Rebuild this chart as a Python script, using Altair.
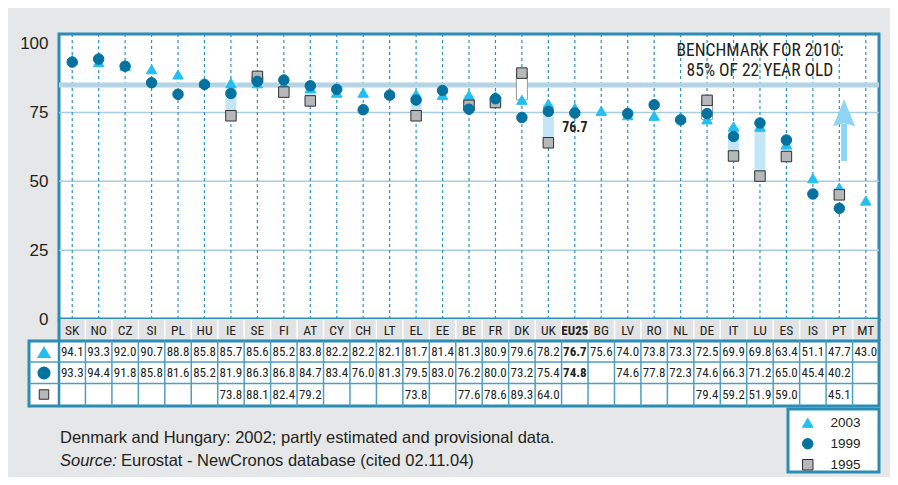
import altair as alt
import pandas as pd

# ---------------- data ----------------
countries = ["SK", "NO", "CZ", "SI", "PL", "HU", "IE", "SE", "FI", "AT", "CY", "CH", "LT", "EL",
             "EE", "BE", "FR", "DK", "UK", "EU25", "BG", "LV", "RO", "NL", "DE", "IT", "LU", "ES",
             "IS", "PT", "MT"]
v2003 = [94.1, 93.3, 92.0, 90.7, 88.8, 85.8, 85.7, 85.6, 85.2, 83.8, 82.2, 82.2, 82.1, 81.7,
         81.4, 81.3, 80.9, 79.6, 78.2, 76.7, 75.6, 74.0, 73.8, 73.3, 72.5, 69.9, 69.8, 63.4,
         51.1, 47.7, 43.0]
v1999 = [93.3, 94.4, 91.8, 85.8, 81.6, 85.2, 81.9, 86.3, 86.8, 84.7, 83.4, 76.0, 81.3, 79.5,
         83.0, 76.2, 80.0, 73.2, 75.4, 74.8, None, 74.6, 77.8, 72.3, 74.6, 66.3, 71.2, 65.0,
         45.4, 40.2, None]
v1995 = [None, None, None, None, None, None, 73.8, 88.1, 82.4, 79.2, None, None, None, 73.8,
         None, 77.6, 78.6, 89.3, 64.0, None, None, None, None, None, 79.4, 59.2, 51.9, 59.0,
         None, 45.1, None]
series_names = ["2003", "1999", "1995"]
y_ticks = [0, 25, 50, 75, 100]
grid_values = [25, 50, 75]
benchmark_value = 85
benchmark_lines = ["BENCHMARK FOR 2010:", "85% OF 22 YEAR OLD"]
benchmark_line_y = [97.4, 90.2]
benchmark_country = "LU"
highlight_country = "EU25"
arrow_country = "PT"
arrow_shaft = [57.4, 71.0]
arrow_head = [74.8]
footnote = "Denmark and Hungary: 2002; partly estimated and provisional data."
source_label = "Source:"
source_text = "Eurostat - NewCronos database (cited 02.11.04)"

# ---------------- style ----------------
NARROW = "Liberation Sans Narrow, Arial Narrow, Roboto Condensed, DejaVu Sans Condensed, sans-serif"
REG = "Liberation Sans, Arial, sans-serif"
TXT = "#231f20"
BG = "#e6e7e8"
BORDER = "#2b8db5"
GRIDC = "#4d9fc2"
C2003 = "#22bff0"
C1999 = "#04729e"
C1995 = "#b7b8ba"
W, H = 820, 285

wide = pd.DataFrame({"country": countries, "v2003": v2003, "v1999": v1999, "v1995": v1995})

rows = []
for name, vals in (("2003", v2003), ("1995", v1995), ("1999", v1999)):
    for c, v in zip(countries, vals):
        if v is not None:
            rows.append({"country": c, "series": name, "value": v})
long = pd.DataFrame(rows)

ranges = pd.DataFrame([
    {"country": c, "lo": a, "hi": b, "up": a >= b}
    for c, a, b in zip(countries, v2003, v1995) if b is not None
])

YSCALE = alt.Scale(domain=[0, 103.5], nice=False, zero=False)
XSCALE = alt.Scale(paddingInner=0, paddingOuter=0)


def X(**kw):
    return alt.X("country:N", sort=countries, scale=XSCALE, axis=None, title=None, **kw)


def Yq(field, **kw):
    return alt.Y(field, type="quantitative", scale=YSCALE, title=None, **kw)


one = pd.DataFrame({"k": [0]})

# gridlines + y axis
grid = alt.Chart(pd.DataFrame({"g": grid_values})).mark_rule(
    color="#a8cde0", strokeWidth=1.5
).encode(
    y=Yq("g", axis=alt.Axis(values=y_ticks, grid=False, domain=False, ticks=False, tickSize=0,
                            labelFontSize=17, labelFont=REG, labelColor=TXT, labelPadding=11))
)

dashes = alt.Chart(wide).mark_rule(strokeDash=[3, 3], color="#2c92c4", strokeWidth=1.2).encode(
    x=X()
)

bench = alt.Chart(pd.DataFrame({"b": [benchmark_value]})).mark_rule(
    color="#b2d4e4", strokeWidth=5
).encode(y=Yq("b"))

bars_up = alt.Chart(ranges).transform_filter("datum.up").mark_bar(
    width=11, color="#c3e6f7"
).encode(x=X(), y=Yq("lo"), y2="hi")

bars_down = alt.Chart(ranges).transform_filter("!datum.up").mark_bar(
    width=11, fill="white", stroke="#9a9a9a", strokeWidth=1
).encode(x=X(), y=Yq("lo"), y2="hi")

LEG = alt.Legend(title=None, orient="none", legendX=742, legendY=382, labelFont=REG,
                 labelFontSize=13.5, labelColor=TXT, labelOffset=16, symbolSize=110,
                 rowPadding=6, padding=0, symbolStrokeWidth=1)

markers = alt.Chart(long).mark_point(filled=True, size=110, strokeWidth=1, opacity=1).encode(
    x=X(),
    y=Yq("value"),
    shape=alt.Shape("series:N", scale=alt.Scale(domain=series_names,
                                                range=["triangle-up", "circle", "square"]), legend=LEG),
    fill=alt.Fill("series:N", scale=alt.Scale(domain=series_names,
                                              range=[C2003, C1999, C1995]), legend=LEG),
    stroke=alt.Stroke("series:N", scale=alt.Scale(domain=series_names,
                                                  range=[C2003, C1999, "#2f2f2f"]), legend=LEG),
)

eu_label = alt.Chart(wide).transform_filter(
    f"datum.country == '{highlight_country}'"
).mark_text(font=NARROW, fontSize=14, fontWeight="bold", color=TXT, dy=20, baseline="middle").encode(
    x=X(), y=Yq("v2003"), text=alt.Text("v2003:Q", format=".1f")
)

bench_text = alt.Chart(pd.DataFrame({"t": benchmark_lines, "v": benchmark_line_y,
                                     "country": [benchmark_country] * 2})).mark_text(
    font=NARROW, fontSize=17.5, color=TXT, baseline="middle"
).encode(x=X(), y=Yq("v"), text="t:N")

arrow_df = pd.DataFrame({"country": [arrow_country], "a": [arrow_shaft[0]], "b": [arrow_shaft[1]],
                         "h": arrow_head})
arrow_shaft_l = alt.Chart(arrow_df).mark_rule(color="#8fd5f3", strokeWidth=6).encode(
    x=X(), xOffset=alt.value(18), y=Yq("a"), y2="b"
)
arrow_head_l = alt.Chart(arrow_df).mark_point(
    shape="M0,-1.25L1,1.2L0,0.9L-1,1.2Z", filled=True, size=484, color="#8fd5f3", opacity=1
).encode(x=X(), xOffset=alt.value(18), y=Yq("h"))

# ---------------- table ----------------
head_rect = alt.Chart(one).mark_rect(fill="#e2e3e4").encode(
    x=alt.value(0), x2=alt.value(W), y=alt.value(H), y2=alt.value(307)
)
head_sep = alt.Chart(wide).transform_filter(f"datum.country != '{countries[0]}'").mark_rule(
    color="white", strokeWidth=1.5
).encode(x=X(bandPosition=0), y=alt.value(H + 1), y2=alt.value(307))
head_sides = alt.Chart(pd.DataFrame({"px": [0, W]})).mark_rule(color=BORDER, strokeWidth=3).encode(
    x=alt.X("px:Q", scale=None), y=alt.value(H), y2=alt.value(307)
)
head_text = alt.Chart(wide).transform_filter(f"datum.country != '{highlight_country}'").mark_text(
    font=NARROW, fontSize=13.5, color=TXT, baseline="middle"
).encode(x=X(), y=alt.value(297), text="country:N")
head_text_b = alt.Chart(wide).transform_filter(f"datum.country == '{highlight_country}'").mark_text(
    font=NARROW, fontSize=13, fontWeight="bold", color=TXT, baseline="middle"
).encode(x=X(), y=alt.value(297), text="country:N")

table_rect = alt.Chart(one).mark_rect(fill="white", stroke=BORDER, strokeWidth=3).encode(
    x=alt.value(-30), x2=alt.value(W), y=alt.value(307), y2=alt.value(372)
)
table_v = alt.Chart(wide).transform_filter(f"datum.country != '{countries[0]}'").mark_rule(
    color=GRIDC, strokeWidth=1.5
).encode(x=X(bandPosition=0), y=alt.value(307), y2=alt.value(372))
table_v0 = alt.Chart(one).mark_rule(color=BORDER, strokeWidth=2.5).encode(
    x=alt.value(0), y=alt.value(307), y2=alt.value(372)
)
table_h = alt.Chart(pd.DataFrame({"py": [328, 349.5]})).mark_rule(color=GRIDC, strokeWidth=1.5).encode(
    y=alt.Y("py:Q", scale=None), x=alt.value(-30), x2=alt.value(W)
)

row_layers = []
for field, ypx in (("v2003", 318), ("v1999", 339), ("v1995", 360.5)):
    row_layers.append(alt.Chart(wide).transform_filter(
        f"isValid(datum.{field}) && datum.country != '{highlight_country}'"
    ).mark_text(font=NARROW, fontSize=13, color=TXT, baseline="middle").encode(
        x=X(), y=alt.value(ypx), text=alt.Text(f"{field}:Q", format=".1f")))
    row_layers.append(alt.Chart(wide).transform_filter(
        f"isValid(datum.{field}) && datum.country == '{highlight_country}'"
    ).mark_text(font=NARROW, fontSize=13, fontWeight="bold", color=TXT, baseline="middle").encode(
        x=X(), y=alt.value(ypx), text=alt.Text(f"{field}:Q", format=".1f")))

sym_tri = alt.Chart(one).mark_point(shape="triangle-up", filled=True, size=200, color=C2003, opacity=1).encode(
    x=alt.value(-15), y=alt.value(318))
sym_cir = alt.Chart(one).mark_point(shape="circle", filled=True, size=170, color=C1999, opacity=1).encode(
    x=alt.value(-15), y=alt.value(339))
sym_sq = alt.Chart(one).mark_point(shape="square", filled=True, size=90, fill=C1995, stroke="#2f2f2f",
                                   strokeWidth=1, opacity=1).encode(
    x=alt.value(-15), y=alt.value(360.5))

legend_box = alt.Chart(one).mark_rect(fill="white", stroke=BORDER, strokeWidth=3).encode(
    x=alt.value(729), x2=alt.value(W), y=alt.value(375), y2=alt.value(438)
)

FOOT = 16.5
note1 = alt.Chart(one).mark_text(text=footnote, font=REG, fontSize=FOOT, color=TXT,
                                 align="left", baseline="middle").encode(
    x=alt.value(1), y=alt.value(404))
note2a = alt.Chart(one).mark_text(text=source_label, font=REG, fontSize=FOOT, fontStyle="italic",
                                  color=TXT, align="left", baseline="middle").encode(
    x=alt.value(1), y=alt.value(427))
note2b = alt.Chart(one).mark_text(text=source_text, font=REG, fontSize=FOOT, color=TXT,
                                  align="left", baseline="middle").encode(
    x=alt.value(62), y=alt.value(427))

chart = alt.layer(
    grid, dashes, bench, bars_up, bars_down, markers, eu_label, bench_text,
    arrow_shaft_l, arrow_head_l,
    head_rect, head_sep, head_sides, head_text, head_text_b,
    table_rect, table_v, table_v0, table_h, *row_layers,
    sym_tri, sym_cir, sym_sq, legend_box, note1, note2a, note2b
).properties(
    width=W, height=H,
    autosize=alt.AutoSizeParams(type="none"),
    padding={"left": 51, "top": 26, "right": 11, "bottom": 158},
    background=BG,
).configure_view(
    stroke=BORDER, strokeWidth=3, fill="white"
)

chart.save("out.html", embed_options={"renderer": "svg", "actions": False})
